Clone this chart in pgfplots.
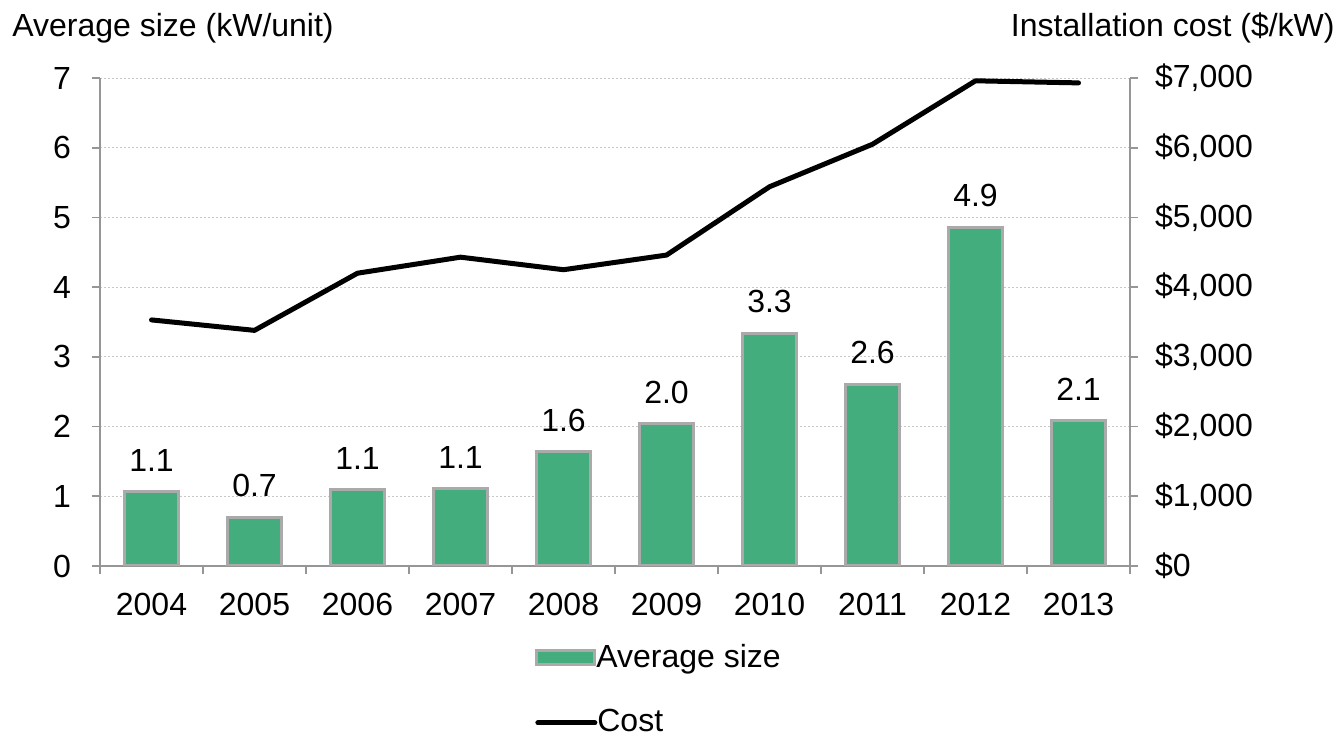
\documentclass[border=0pt]{standalone}
\usepackage{pgfplots}
\pgfplotsset{compat=1.18}
\usepackage{fontspec}
\setmainfont{Liberation Sans}
\definecolor{barfill}{RGB}{68,173,125}
\definecolor{barborder}{RGB}{170,170,170}
\definecolor{axgray}{RGB}{150,150,150}
\definecolor{gridgray}{RGB}{200,200,200}
\newcommand{\chfont}{\fontsize{16}{19}\selectfont}
\begin{document}
\chfont
\begin{tikzpicture}
\useasboundingbox (-50pt,-85.5pt) rectangle (619pt,283pt);
\pgfplotsset{
 every axis/.append style={
  scale only axis, width=515pt, height=244pt,
  xmin=-0.5, xmax=9.5,
  font=\chfont,
  tick style={axgray, line width=0.8pt},
  axis line style={axgray, line width=0.8pt},
  tick align=outside,
  major tick length=4pt, minor tick length=4pt,
  /pgf/number format/assume math mode=true,
  legend style={draw=none, fill=none, inner sep=0pt, font=\chfont,
     anchor=west, nodes={inner sep=0pt},
     /tikz/every even column/.style={column sep=3pt}},
 }}
\begin{axis}[
 ymin=0, ymax=7,
 axis x line*=bottom, axis y line*=left,
 ytick={0,...,7}, yticklabels={0,1,2,3,4,5,6,7},
 yticklabel style={xshift=-5pt},
 xtick={-0.5,0.5,...,9.5}, xticklabels={},
 extra x ticks={0,...,9},
 extra x tick labels={2004,2005,2006,2007,2008,2009,2010,2011,2012,2013},
 extra x tick style={major tick length=0pt, grid=none, xticklabel style={yshift=-8pt}},
 ymajorgrids, grid style={gridgray, dash pattern=on 1pt off 1pt, line width=0.4pt},
 ybar, bar width=27pt,
 nodes near coords={\pgfmathprintnumber[fixed,fixed zerofill,precision=1]{\pgfplotspointmeta}},
 every node near coord/.append style={text=black, yshift=4pt, font=\chfont},
 legend style={at={(0.4223,-0.1885)}},
 legend image code/.code={\draw[fill=barfill, draw=barborder, line width=1.5pt] (0.75pt,-3.5pt) rectangle (29.75pt,3.5pt);},
]
\addplot[fill=barfill, draw=barborder, line width=1.5pt] coordinates {
 (0,1.07) (1,0.70) (2,1.10) (3,1.115) (4,1.64) (5,2.04) (6,3.34) (7,2.61) (8,4.86) (9,2.08)};
\addlegendentry{Average size}
\end{axis}
\begin{axis}[
 ymin=0, ymax=7000,
 axis y line*=right, axis x line=none,
 ytick={0,1000,...,7000},
 yticklabels={\$0,{\$1,000},{\$2,000},{\$3,000},{\$4,000},{\$5,000},{\$6,000},{\$7,000}},
 yticklabel style={xshift=3pt},
 legend style={at={(0.4223,-0.3215)}},
 legend image code/.code={\draw[black, line width=2.5pt, line cap=round] (1.25pt,0pt) -- (29.75pt,0pt);},
]
\addplot[black, line width=2.5pt, line join=round, line cap=round, mark=none] coordinates {
 (0,3530) (1,3380) (2,4200) (3,4430) (4,4250) (5,4460) (6,5440) (7,6050) (8,6960) (9,6930)};
\addlegendentry{Cost}
\end{axis}
\node[anchor=west, inner sep=0pt] at (-44pt,269pt) {Average size (kW/unit)};
\node[anchor=east, inner sep=0pt] at (617.5pt,269pt) {Installation cost (\$/kW)};
\end{tikzpicture}
\end{document}
